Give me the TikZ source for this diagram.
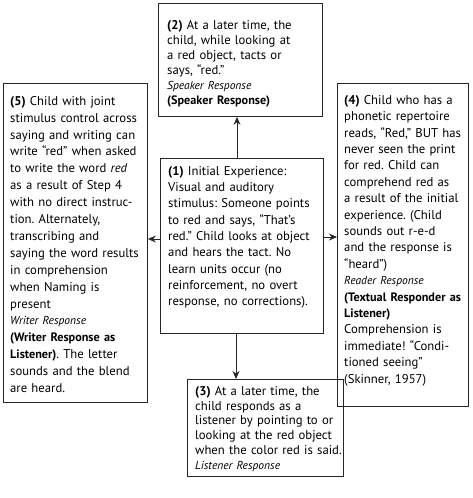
\documentclass[tikz,border=0pt]{standalone}
\usepackage{fontspec}
\setmainfont{PT Sans}
\usetikzlibrary{arrows.meta}
\newcommand\lbl[1]{{\fontsize{11.5}{14}\selectfont\itshape #1}}
\newcommand\blbl[1]{{\fontsize{12.2}{14}\selectfont\bfseries #1}}
\begin{document}
\frenchspacing
\begin{tikzpicture}[x=1pt,y=-1pt,
 box/.style={draw=black!85, line width=0.9pt, inner sep=0pt, anchor=north west},
 txt/.style={anchor=north west, inner sep=0pt, align=left},
 arr/.style={draw=black!85, line width=0.9pt, -{Stealth[length=8pt,width=7pt]}}]
\useasboundingbox (0,0) rectangle (472,498);
% boxes
\node[box, minimum width=164pt, minimum height=113pt] (b2) at (158,3) {};
\node[box, minimum width=163pt, minimum height=175pt] (b1) at (160,158) {};
\node[box, minimum width=144pt, minimum height=319pt] (b5) at (3,83) {};
\node[box, minimum width=131pt, minimum height=323pt] (b4) at (337,83) {};
\node[box, minimum width=156pt, minimum height=97pt] (b3) at (187,379) {};
% texts
\node[txt, text width=158pt, font=\fontsize{12.7}{15}\selectfont] (t2) at ([xshift=9pt,yshift=-17pt]b2.north west) {%
\textbf{(2)} At a later time, the\\
child, while looking at\\
a red object, tacts or\\
says, “red.”\\
\lbl{Speaker Response}\\
\blbl{(Speaker Response)}};
\node[txt, text width=158pt, font=\fontsize{12.7}{16.3}\selectfont] (t1) at ([xshift=8pt,yshift=-8pt]b1.north west) {%
\textbf{(1)} Initial Experience:\\
Visual and auditory\\
stimulus: Someone points\\
to red and says, “That’s\\
red.” Child looks at object\\
and hears the tact. No\\
learn units occur (no\\
reinforcement, no overt\\
response, no corrections).};
\node[txt, text width=140pt, font=\fontsize{12.7}{16.9}\selectfont] (t5) at ([xshift=7pt,yshift=-13pt]b5.north west) {%
\textbf{(5)} Child with joint\\
stimulus control across\\
saying and writing can\\
write “red” when asked\\
to write the word \textit{red}\\
as a result of Step 4\\
with no direct instruc-\\
tion. Alternately,\\
transcribing and\\
saying the word results\\
in comprehension\\
when Naming is\\
present\\
\lbl{Writer Response}\\
\blbl{(Writer Response as}\\
\blbl{Listener)}. The letter\\
sounds and the blend\\
are heard.};
\node[txt, text width=128pt, font=\fontsize{12.7}{16.4}\selectfont] (t4) at ([xshift=7pt,yshift=-12pt]b4.north west) {%
\textbf{(4)} Child who has a\\
phonetic repertoire\\
reads, “Red,” BUT has\\
never seen the print\\
for red. Child can\\
comprehend red as\\
a result of the initial\\
experience. (Child\\
sounds out r-e-d\\
and the response is\\
“heard”)\\
\lbl{Reader Response}\\
\blbl{(Textual Responder as}\\
\blbl{Listener)}\\
Comprehension is\\
immediate! “Condi-\\
tioned seeing”\\
(Skinner, 1957)};
\node[txt, text width=152pt, font=\fontsize{12.7}{14.8}\selectfont] (t3) at ([xshift=8pt,yshift=-7pt]b3.north west) {%
\textbf{(3)} At a later time, the\\
child responds as a\\
listener by pointing to or\\
looking at the red object\\
when the color red is said.\\
\lbl{Listener Response}};
% arrows
\draw[arr] (b1.north -| 237,0) -- (b2.south -| 237,0);
\draw[arr] (b1.south -| 236,0) -- (b3.north -| 236,0);
\draw[arr] (b1.west |- 0,239) -- (b5.east |- 0,239);
\draw[arr] (b1.east |- 0,237) -- (b4.west |- 0,237);
\end{tikzpicture}
\end{document}
